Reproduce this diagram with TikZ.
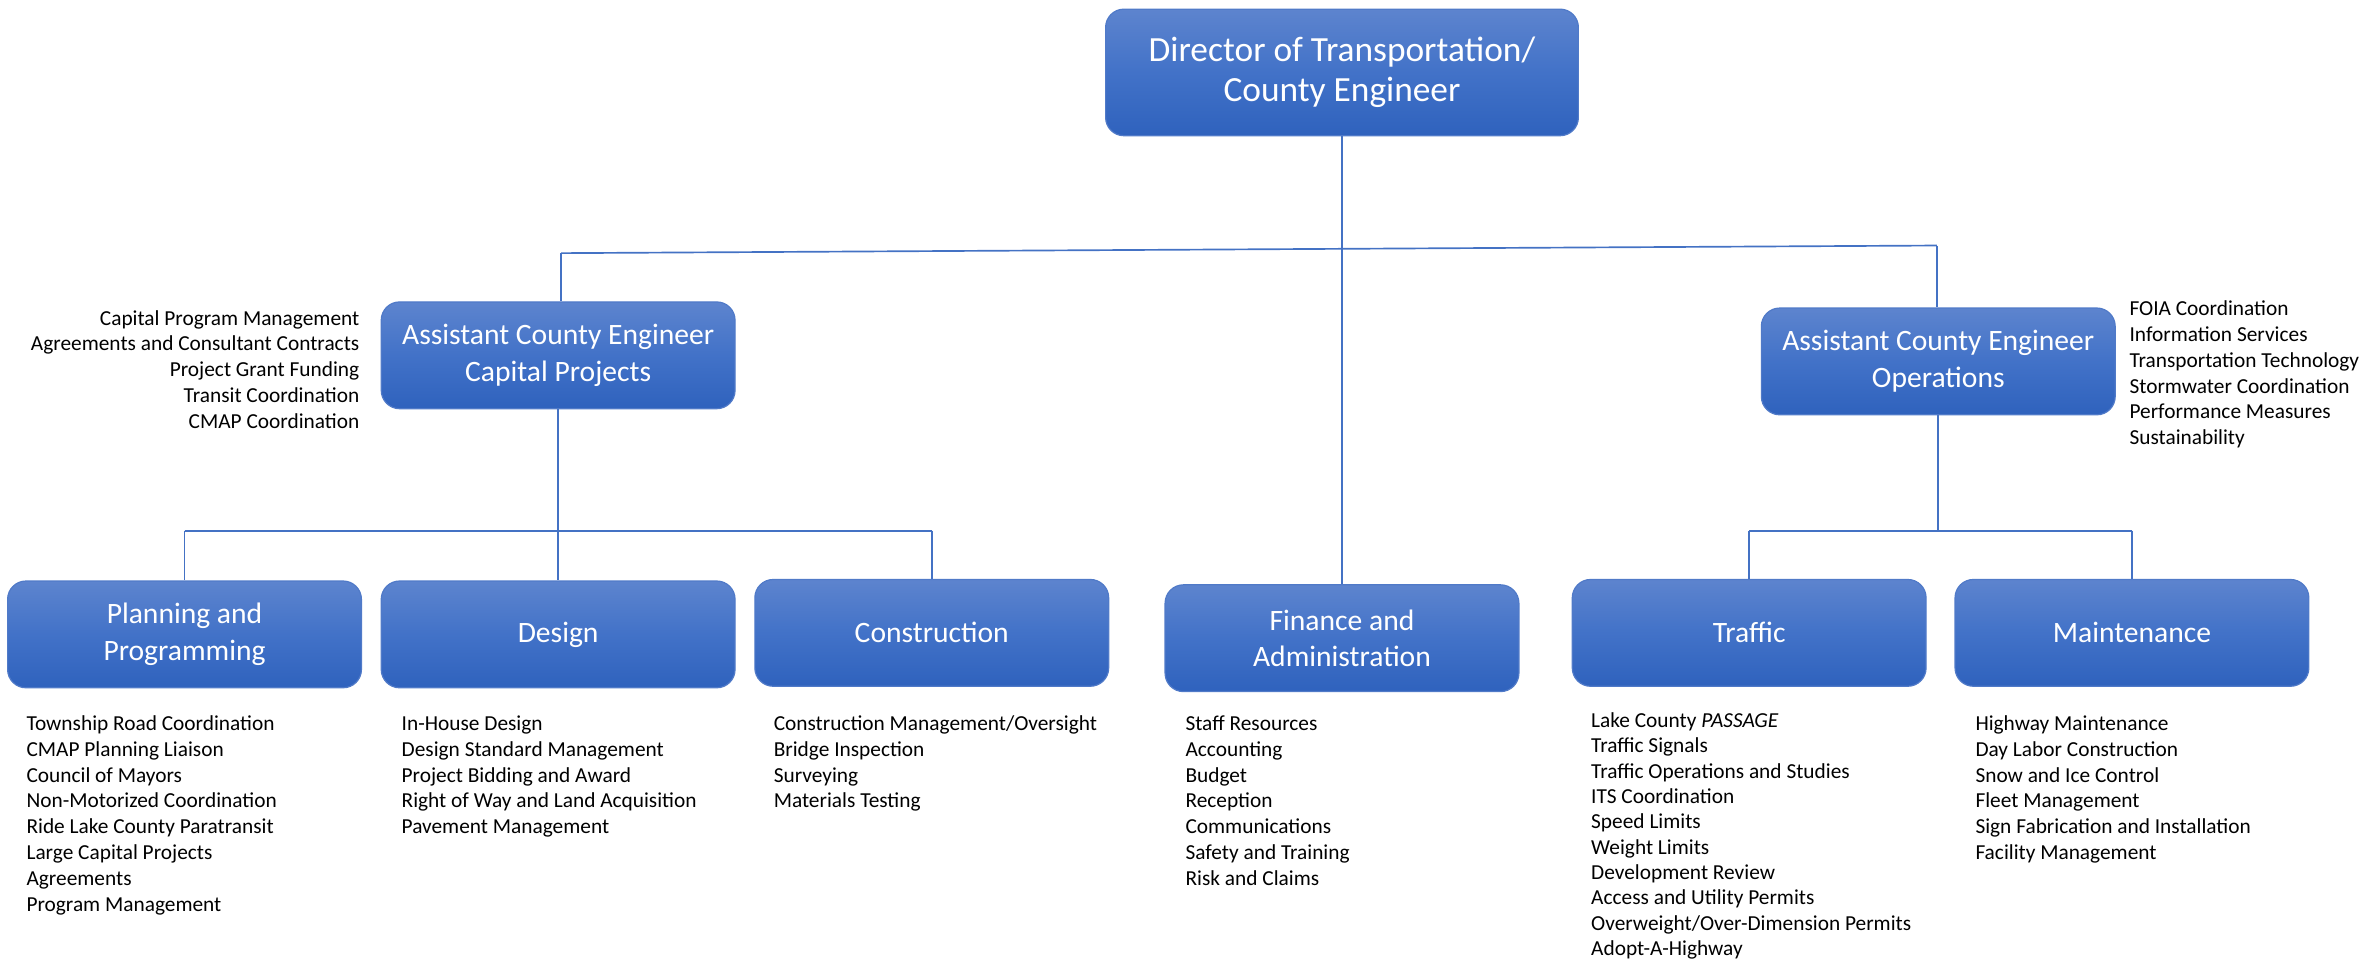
\documentclass[tikz,border=0pt]{standalone}
\usepackage{fontspec}
\setmainfont{Carlito}
\definecolor{boxtop}{RGB}{93,132,206}
\definecolor{boxmid}{RGB}{66,114,200}
\definecolor{boxbot}{RGB}{47,98,189}
\definecolor{boxedge}{RGB}{80,122,200}
\definecolor{linkblue}{RGB}{68,114,196}
\begin{document}
\begin{tikzpicture}[x=0.5pt,y=-0.5pt,
    unit/.style={rounded corners=6pt, draw=boxedge, line width=0.4pt,
      top color=boxtop, bottom color=boxbot, middle color=boxmid,
      text=white, align=center, minimum width=116pt, minimum height=35pt,
      inner sep=2pt, font=\fontsize{9.7}{12}\selectfont},
    duties/.style={anchor=north west, align=left, inner sep=0pt,
      font=\fontsize{7}{8.45}\selectfont},
    link/.style={draw=linkblue, line width=0.55pt}]
        \useasboundingbox (0,0) rectangle (1560,630.8);
        % boxes
        \node[unit, minimum width=155pt, minimum height=41.5pt,
          font=\fontsize{11.6}{13}\selectfont] (director) at (880,47.5)
          {Director of Transportation/\\County Engineer};
        \node[unit] (cap) at (366,233) {Assistant County Engineer\\Capital Projects};
        \node[unit] (ops) at (1271,237) {Assistant County Engineer\\Operations};
        \node[unit] (plan) at (121,416) {Planning and\\Programming};
        \node[unit] (design) at (366,416) {Design};
        \node[unit] (cons) at (611,415) {Construction};
        \node[unit] (finance) at (880,418.5) {Finance and\\Administration};
        \node[unit] (traffic) at (1147,415) {Traffic};
        \node[unit] (maint) at (1398,415) {Maintenance};
        % connectors
        \coordinate (capjoin) at (368,166);
        \coordinate (opsjoin) at (1270,161);
        \coordinate (planjoin) at (121,348);
        \coordinate (consjoin) at (611,348);
        \coordinate (trafjoin) at (1147,348);
        \coordinate (mainjoin) at (1398,348);
        \draw[link] (director.south) -- (finance.north);
        \draw[link] (capjoin) -- (opsjoin);
        \draw[link] (capjoin) -- (capjoin |- cap.north);
        \draw[link] (opsjoin) -- (opsjoin |- ops.north);
        \draw[link] (cap.south) -- (design.north);
        \draw[link] (planjoin) -- (consjoin);
        \draw[link] (planjoin) -- (plan.north);
        \draw[link] (consjoin) -- (cons.north);
        \draw[link] (ops.south) -- (ops.south |- trafjoin);
        \draw[link] (trafjoin) -- (mainjoin);
        \draw[link] (trafjoin) -- (traffic.north);
        \draw[link] (mainjoin) -- (maint.north);
        % duty lists
        \node[duties, anchor=north east, align=right] (capduties) at (236,203)
          {Capital Program Management\\Agreements and Consultant Contracts\\Project Grant Funding\\Transit Coordination\\CMAP Coordination};
        \node[duties] (opsduties) at (1396,197)
          {FOIA Coordination\\Information Services\\Transportation Technology\\Stormwater Coordination\\Performance Measures\\Sustainability};
        \node[duties] (planduties) at (17,469)
          {Township Road Coordination\\CMAP Planning Liaison\\Council of Mayors\\Non-Motorized Coordination\\Ride Lake County Paratransit\\Large Capital Projects\\Agreements\\Program Management};
        \node[duties] (designduties) at (263,469)
          {In-House Design\\Design Standard Management\\Project Bidding and Award\\Right of Way and Land Acquisition\\Pavement Management};
        \node[duties] (consduties) at (507,469)
          {Construction Management/Oversight\\Bridge Inspection\\Surveying\\Materials Testing};
        \node[duties] (financeduties) at (777,469)
          {Staff Resources\\Accounting\\Budget\\Reception\\Communications\\Safety and Training\\Risk and Claims};
        \node[duties, font=\fontsize{7}{8.3}\selectfont] (trafficduties) at (1043,467)
          {Lake County \textit{PASSAGE}\\Traffic Signals\\Traffic Operations and Studies\\ITS Coordination\\Speed Limits\\Weight Limits\\Development Review\\Access and Utility Permits\\Overweight/Over-Dimension Permits\\Adopt-A-Highway};
        \node[duties] (maintduties) at (1295,469)
          {Highway Maintenance\\Day Labor Construction\\Snow and Ice Control\\Fleet Management\\Sign Fabrication and Installation\\Facility Management};
      \end{tikzpicture}
\end{document}
